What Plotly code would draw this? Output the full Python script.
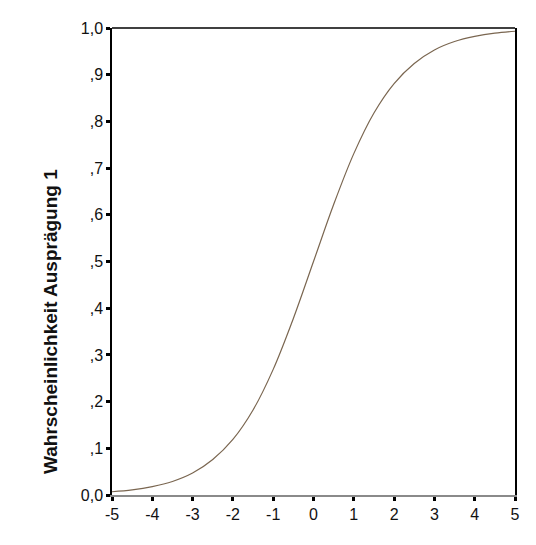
import plotly.graph_objects as go

x_vals = [-5, -4.5, -4, -3.5, -3, -2.5, -2, -1.5, -1, -0.5, 0, 0.5, 1, 1.5, 2, 2.5, 3, 3.5, 4, 4.5, 5]
y_vals = [0.007, 0.011, 0.018, 0.029, 0.047, 0.076, 0.119, 0.182, 0.269, 0.378, 0.5,
          0.622, 0.731, 0.818, 0.881, 0.924, 0.953, 0.971, 0.982, 0.989, 0.993]

y_tickvals = [0, 0.1, 0.2, 0.3, 0.4, 0.5, 0.6, 0.7, 0.8, 0.9, 1.0]
y_ticktext = ["0,0", ",1", ",2", ",3", ",4", ",5", ",6", ",7", ",8", ",9", "1,0"]
x_tickvals = [-5, -4, -3, -2, -1, 0, 1, 2, 3, 4, 5]
x_ticktext = ["-5", "-4", "-3", "-2", "-1", "0", "1", "2", "3", "4", "5"]
y_title = "Wahrscheinlichkeit Ausprägung 1"

fig = go.Figure()
fig.add_trace(go.Scatter(x=x_vals, y=y_vals, mode="lines",
                         line=dict(color="#7a6650", width=1.2, shape="spline"),
                         showlegend=False, hoverinfo="skip"))

font = "Liberation Sans, Arial, sans-serif"
fig.update_layout(
    width=528, height=537,
    margin=dict(l=104, r=21, t=20, b=50),
    paper_bgcolor="white", plot_bgcolor="white",
    xaxis=dict(range=[-5, 5], tickvals=x_tickvals, ticktext=x_ticktext,
               showgrid=False, zeroline=False, showline=True, linecolor="#8a8a8a",
               linewidth=2, ticks="outside", ticklen=4, tickwidth=3, tickcolor="black",
               tickfont=dict(family=font, size=16, color="#111")),
    yaxis=dict(range=[0, 1], tickvals=y_tickvals, ticktext=y_ticktext,
               showgrid=False, zeroline=False, showline=True, linecolor="black",
               linewidth=1.5, mirror=True, ticks="outside", ticklen=4, tickwidth=3,
               tickcolor="black", tickfont=dict(family=font, size=16, color="#111")),
    shapes=[dict(type="line", xref="paper", yref="paper", x0=0, x1=1, y0=1, y1=1,
                 line=dict(color="black", width=1.5))],
    annotations=[dict(text="<b>" + y_title + "</b>", xref="paper", yref="paper",
                      x=(50 - 112) / 403, y=(495 - 322) / 467, xanchor="center",
                      yanchor="middle", textangle=-90, showarrow=False,
                      font=dict(family=font, size=19, color="#111"))],
)
fig.write_html("out.html")
